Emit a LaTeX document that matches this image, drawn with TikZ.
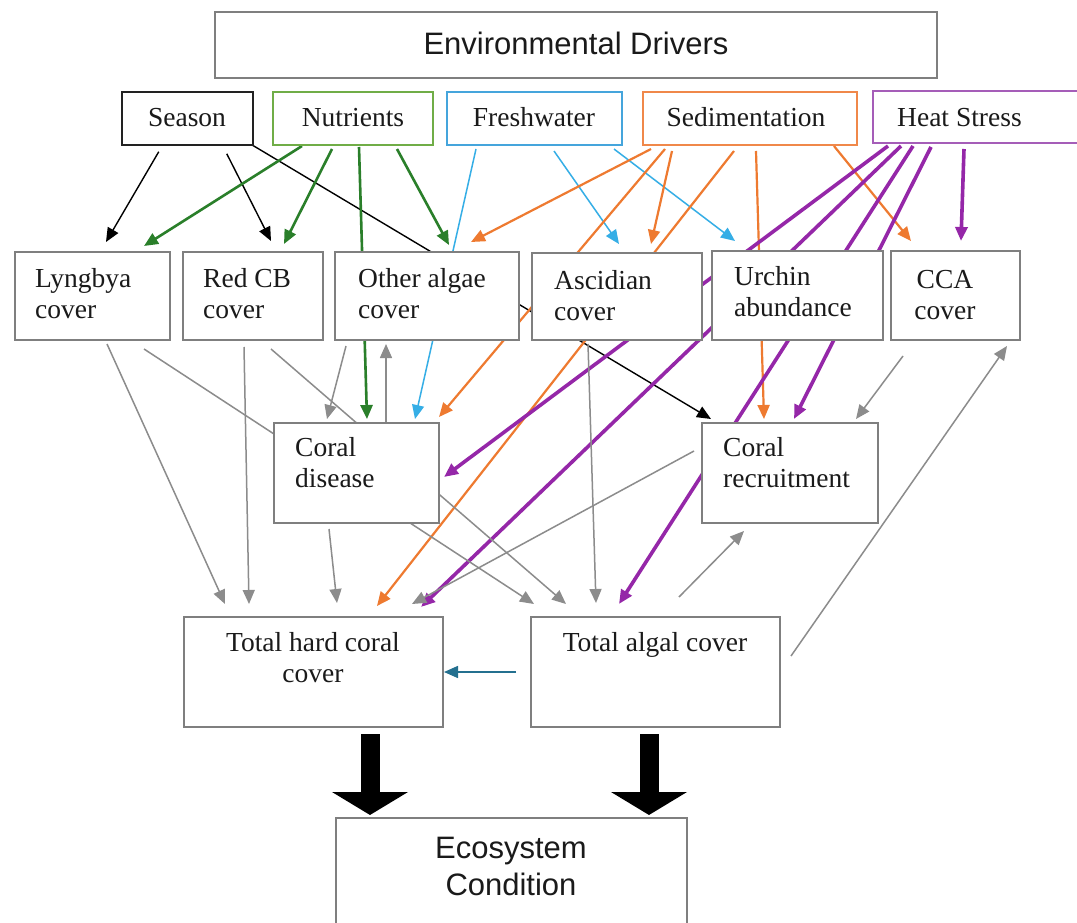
\documentclass[tikz,border=0pt]{standalone}
\usepackage{fontspec}
\setmainfont{Liberation Serif}
\newfontfamily\headfont{Liberation Sans}
\usetikzlibrary{arrows.meta,calc,fit,backgrounds}
\pgfdeclarelayer{bottom}
\pgfsetlayers{bottom,background,main}
\definecolor{boxgray}{HTML}{7F7F7F}
\definecolor{seacol}{HTML}{222222}
\definecolor{nutbox}{HTML}{70AD47}
\definecolor{frebox}{HTML}{45A5DC}
\definecolor{sedbox}{HTML}{F0884A}
\definecolor{heabox}{HTML}{A55DB8}
\definecolor{greenarr}{HTML}{2A7F2A}
\definecolor{bluearr}{HTML}{35AEE6}
\definecolor{orangearr}{HTML}{EE7A30}
\definecolor{purplearr}{HTML}{9527A8}
\definecolor{grayarr}{HTML}{8C8C8C}
\definecolor{tealarr}{HTML}{24708F}
\definecolor{txt}{HTML}{1A1A1A}
\newcommand\mkbox[6][]{%
  \path (#3,#4) coordinate (#2-a) (#5,#6) coordinate (#2-b);
  \node[box,#1,fit=(#2-a)(#2-b)] (#2) {};}
\begin{document}
\begin{tikzpicture}[x=1pt,y=-1pt,
  box/.style={draw=boxgray, line width=2pt, fill=white, inner sep=0pt},
  lbl/.style={inner sep=0pt, align=left, text=txt, font=\fontsize{27.5}{31.5}\selectfont},
  hlbl/.style={inner sep=0pt, align=center, text=txt, font=\headfont\fontsize{31}{37}\selectfont},
  tip/.style={-{Triangle[length=14pt,width=12pt]}},
  blackarr/.style={tip, draw=black, line width=1.4pt},
  greenline/.style={tip, draw=greenarr, line width=2.6pt},
  blueline/.style={tip, draw=bluearr, line width=1.5pt},
  orangeline/.style={tip, draw=orangearr, line width=2.2pt},
  purpleline/.style={tip, draw=purplearr, line width=3.6pt},
  grayline/.style={tip, draw=grayarr, line width=1.5pt},
  tealline/.style={tip, draw=tealarr, line width=1.5pt},
  bigarrow/.style={draw=black, line width=19pt, -{Triangle[length=23pt,width=75pt]}}]
\begin{pgfonlayer}{bottom}
\fill[white] (0,0) rectangle (1077,923);
\end{pgfonlayer}
\useasboundingbox (0,0) rectangle (1077,923);

% boxes
\mkbox{env}{215}{12}{937}{78}
\mkbox[draw=seacol,line width=2.5pt]{sea}{122}{92}{253}{145}
\mkbox[draw=nutbox]{nut}{273}{92}{433}{145}
\mkbox[draw=frebox]{fre}{447}{92}{622}{145}
\mkbox[draw=sedbox]{sed}{643}{92}{857}{145}
\mkbox[draw=heabox]{hea}{873}{91}{1084}{143}
\mkbox{ly}{15}{252}{170}{340}
\mkbox{rcb}{183}{252}{323}{340}
\mkbox{oa}{335}{252}{519}{340}
\mkbox{asc}{532}{253}{702}{340}
\mkbox{urc}{712}{251}{883}{340}
\mkbox{cca}{891}{251}{1020}{340}
\mkbox{cd}{274}{423}{439}{523}
\mkbox{cr}{702}{423}{878}{523}
\mkbox{thc}{184}{617}{443}{727}
\mkbox{tac}{531}{617}{780}{727}
\mkbox{eco}{336}{818}{687}{940}

% labels
\node[hlbl, anchor=base] (env-t) at (576,55) {Environmental Drivers};
\node[lbl, anchor=base] (sea-t) at (187,127) {Season};
\node[lbl, anchor=base] (nut-t) at (353,127) {Nutrients};
\node[lbl, anchor=base] (fre-t) at (534,127) {Freshwater};
\node[lbl, anchor=base] (sed-t) at (746,127) {Sedimentation};
\node[lbl, anchor=base west] (hea-t) at (897,127) {Heat Stress};
\node[lbl, anchor=north west] (ly-t) at (35,268) {Lyngbya\\cover};
\node[lbl, anchor=north west] (rcb-t) at (203,268) {Red CB\\cover};
\node[lbl, anchor=north west] (oa-t) at (358,268) {Other algae\\cover};
\node[lbl, anchor=north west] (asc-t) at (554,270) {Ascidian\\cover};
\node[lbl, anchor=north west] (urc-t) at (734,266) {Urchin\\abundance};
\node[lbl, anchor=north, align=center] (cca-t) at (945,270) {CCA\\cover};
\node[lbl, anchor=north west] (cd-t) at (295,437) {Coral\\disease};
\node[lbl, anchor=north west] (cr-t) at (723,437) {Coral\\recruitment};
\node[lbl, anchor=north, align=center] (thc-t) at (313,632) {Total hard coral\\cover};
\node[lbl, anchor=north] (tac-t) at (655,632) {Total algal cover};
\node[hlbl, anchor=north] (eco-t) at (511,837) {Ecosystem\\Condition};

\begin{pgfonlayer}{background}
% Season
\draw[blackarr] ($(sea.north west)+(38,61)$) -- ($(ly.north west)+(92,-9)$);
\draw[blackarr] ($(sea.north west)+(106,63)$) -- ($(rcb.north west)+(89,-10)$);
\draw[blackarr] ($(sea.north west)+(131,54)$) -- ($(cr.north west)+(10,-3)$);
% Nutrients
\draw[greenline] ($(nut.north west)+(30,55)$) -- ($(ly.north west)+(130,-5)$);
\draw[greenline] ($(nut.north west)+(60,58)$) -- ($(rcb.north west)+(102,-7)$);
\draw[greenline] ($(nut.north west)+(87,56)$) -- ($(cd.north west)+(94,-3)$);
\draw[greenline] ($(nut.north west)+(125,58)$) -- ($(oa.north west)+(115,-6)$);
% Freshwater
\draw[blueline] ($(fre.north west)+(30,58)$) -- ($(cd.north west)+(142,-3)$);
\draw[blueline] ($(fre.north west)+(108,60)$) -- ($(asc.north west)+(88,-8)$);
\draw[blueline] ($(fre.north west)+(168,58)$) -- ($(urc.north west)+(24,-9)$);
% Sedimentation
\draw[orangeline] ($(sed.north west)+(9,58)$) -- ($(oa.north west)+(137,-9)$);
\draw[orangeline] ($(sed.north west)+(23,58)$) -- ($(cd.north west)+(166,-5)$);
\draw[orangeline] ($(sed.north west)+(30,60)$) -- ($(asc.north west)+(120,-8)$);
\draw[orangeline] ($(sed.north west)+(92,60)$) -- ($(thc.north west)+(194,-10)$);
\draw[orangeline] ($(sed.north west)+(114,60)$) -- ($(cr.north west)+(63,-3)$);
\draw[orangeline] ($(sed.north west)+(192,55)$) -- ($(cca.north west)+(21,-9)$);
% Heat stress
\draw[purpleline] ($(hea.north west)+(16,56)$) -- ($(cd.north west)+(171,55)$);
\draw[purpleline] ($(hea.north west)+(29,56)$) -- ($(thc.north west)+(238,-9)$);
\draw[purpleline] ($(hea.north west)+(41,56)$) -- ($(tac.north west)+(89,-12)$);
\draw[purpleline] ($(hea.north west)+(59,57)$) -- ($(cr.north west)+(93,-3)$);
\draw[purpleline] ($(hea.north west)+(92,59)$) -- ($(cca.north west)+(71,-9)$);
% gray links
\draw[grayline] ($(ly.north west)+(93,93)$) -- ($(thc.north west)+(42,-12)$);
\draw[grayline] ($(ly.north west)+(130,98)$) -- ($(tac.north west)+(4,-12)$);
\draw[grayline] ($(rcb.north west)+(62,96)$) -- ($(thc.north west)+(66,-12)$);
\draw[grayline] ($(rcb.north west)+(89,98)$) -- ($(tac.north west)+(36,-12)$);
\draw[grayline] ($(oa.north west)+(12,95)$) -- ($(cd.north west)+(54,-3)$);
\draw[grayline] ($(cd.north west)+(113,0)$) -- ($(oa.north west)+(52,93)$);
\draw[grayline] ($(asc.north west)+(57,92)$) -- ($(tac.north west)+(66,-13)$);
\draw[grayline] ($(cd.north west)+(56,107)$) -- ($(thc.north west)+(154,-13)$);
\draw[grayline] ($(cr.north west)+(-7,29)$) -- ($(thc.north west)+(229,-12)$);
\draw[grayline] ($(cca.north west)+(13,106)$) -- ($(cr.north west)+(155,-3)$);
\draw[grayline] ($(tac.north west)+(261,40)$) -- ($(cca.north west)+(117,96)$);
\draw[grayline] ($(tac.north west)+(149,-19)$) -- ($(cr.north west)+(43,109)$);
\draw[tealline] ($(tac.north west)+(-14,56)$) -- ($(thc.north west)+(261,56)$);
\end{pgfonlayer}

% big arrows to ecosystem condition
\draw[bigarrow] ($(thc.north west)+(187,118)$) -- ($(eco.north west)+(35,-2)$);
\draw[bigarrow] ($(tac.north west)+(119,118)$) -- ($(eco.north west)+(314,-2)$);
\end{tikzpicture}
\end{document}
